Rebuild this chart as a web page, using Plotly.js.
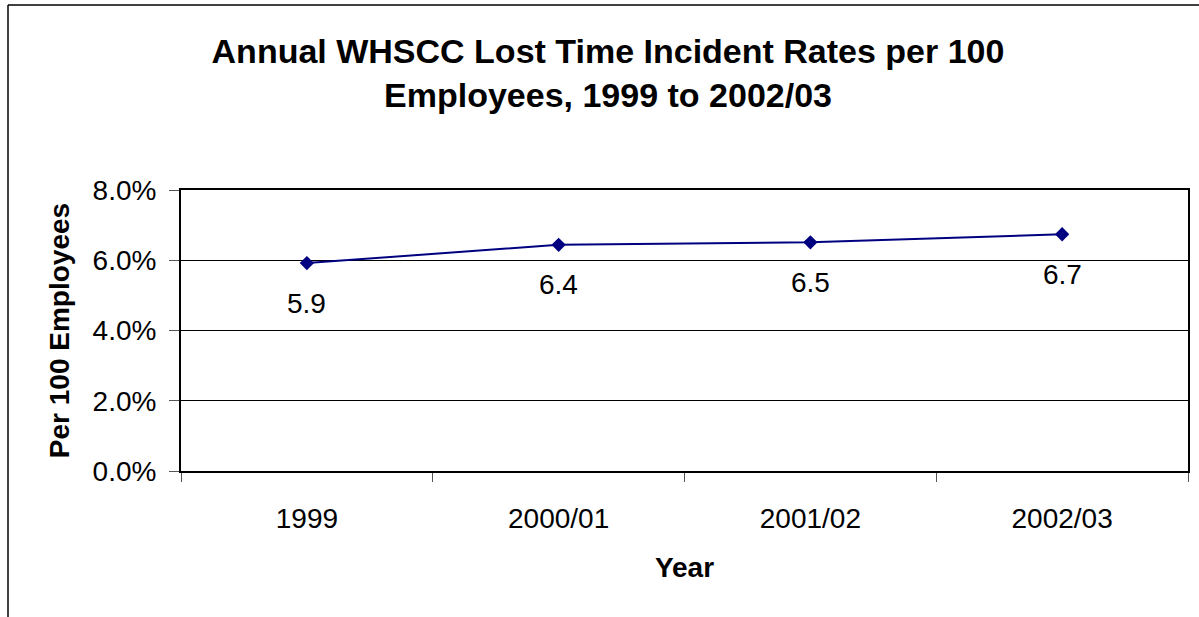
<!DOCTYPE html>
<html>
<head>
<meta charset="utf-8">
<script src="https://cdn.plot.ly/plotly-3.0.1.min.js"></script>
<style>html,body{margin:0;padding:0;background:#fff;}#chart{width:1199px;height:617px;}</style>
</head>
<body>
<div id="chart"></div>
<script>
const categories = ["1999", "2000/01", "2001/02", "2002/03"];
const rates = [5.92, 6.44, 6.51, 6.74];
const yTicks = [0, 2, 4, 6, 8];

const FONT = '"Liberation Sans", Arial, sans-serif';

const trace = {
  type: 'scatter',
  mode: 'lines+markers',
  x: categories,
  y: rates,
  line: {color: '#000080', width: 2},
  marker: {symbol: 'diamond', size: 11, color: '#000080'},
  hoverinfo: 'x+y'
};

// category index used as annotation x so "1999" is not read as a number
const labelAnnotations = categories.map((c, i) => ({
  x: i, y: rates[i], xref: 'x', yref: 'y',
  text: rates[i].toFixed(1),
  showarrow: false, yshift: -40,
  font: {family: FONT, size: 28, color: '#000'}
}));

// plot area geometry (for the outer frame lines)
const L = 181, R = 11, T = 190, B = 146, W = 1199, H = 617;
const pw = W - L - R, ph = H - T - B;
const px = v => (v - L) / pw;
const py = v => 1 - (v - T) / ph;

const layout = {
  width: W, height: H,
  margin: {l: L, r: R, t: T, b: B},
  paper_bgcolor: '#fff', plot_bgcolor: '#fff',
  showlegend: false,
  font: {family: FONT, size: 28, color: '#000'},
  title: {
    text: '<b>Annual WHSCC Lost Time Incident Rates per 100<br>Employees, 1999 to 2002/03</b>',
    font: {family: FONT, size: 34, color: '#000'},
    x: 608 / W, xanchor: 'center',
    y: 1 - 63 / H, yanchor: 'top', yref: 'container'
  },
  xaxis: {
    type: 'category',
    range: [-0.5, 3.5],
    showline: true, linecolor: '#000', linewidth: 2, mirror: true,
    ticks: 'outside', tickson: 'boundaries', ticklen: 9, tickcolor: '#555', tickwidth: 1,
    showgrid: false, zeroline: false,
    tickfont: {family: FONT, size: 28, color: '#000'},
    ticklabelstandoff: 21,
    title: {text: '<b>Year</b>', font: {family: FONT, size: 28, color: '#000'}, standoff: 25}
  },
  yaxis: {
    range: [0, 8],
    tickvals: yTicks,
    ticktext: yTicks.map(v => v.toFixed(1) + '%'),
    showline: true, linecolor: '#000', linewidth: 2, mirror: true,
    ticks: 'outside', ticklen: 10, tickcolor: '#555', tickwidth: 1,
    showgrid: true, gridcolor: '#000', gridwidth: 1, zeroline: false,
    tickfont: {family: FONT, size: 28, color: '#000'},
    ticklabelstandoff: 7,
    title: {text: '<b>Per 100 Employees</b>', font: {family: FONT, size: 28, color: '#000'}, standoff: 15}
  },
  annotations: labelAnnotations,
  shapes: [
    {type: 'line', xref: 'paper', yref: 'paper', x0: px(8), x1: px(8), y0: py(5), y1: py(640), line: {color: '#000', width: 1.5}},
    {type: 'line', xref: 'paper', yref: 'paper', x0: px(8), x1: px(1220), y0: py(5), y1: py(5), line: {color: '#000', width: 1.5}}
  ]
};

Plotly.newPlot('chart', [trace], layout, {displayModeBar: false, staticPlot: true});
</script>
</body>
</html>
